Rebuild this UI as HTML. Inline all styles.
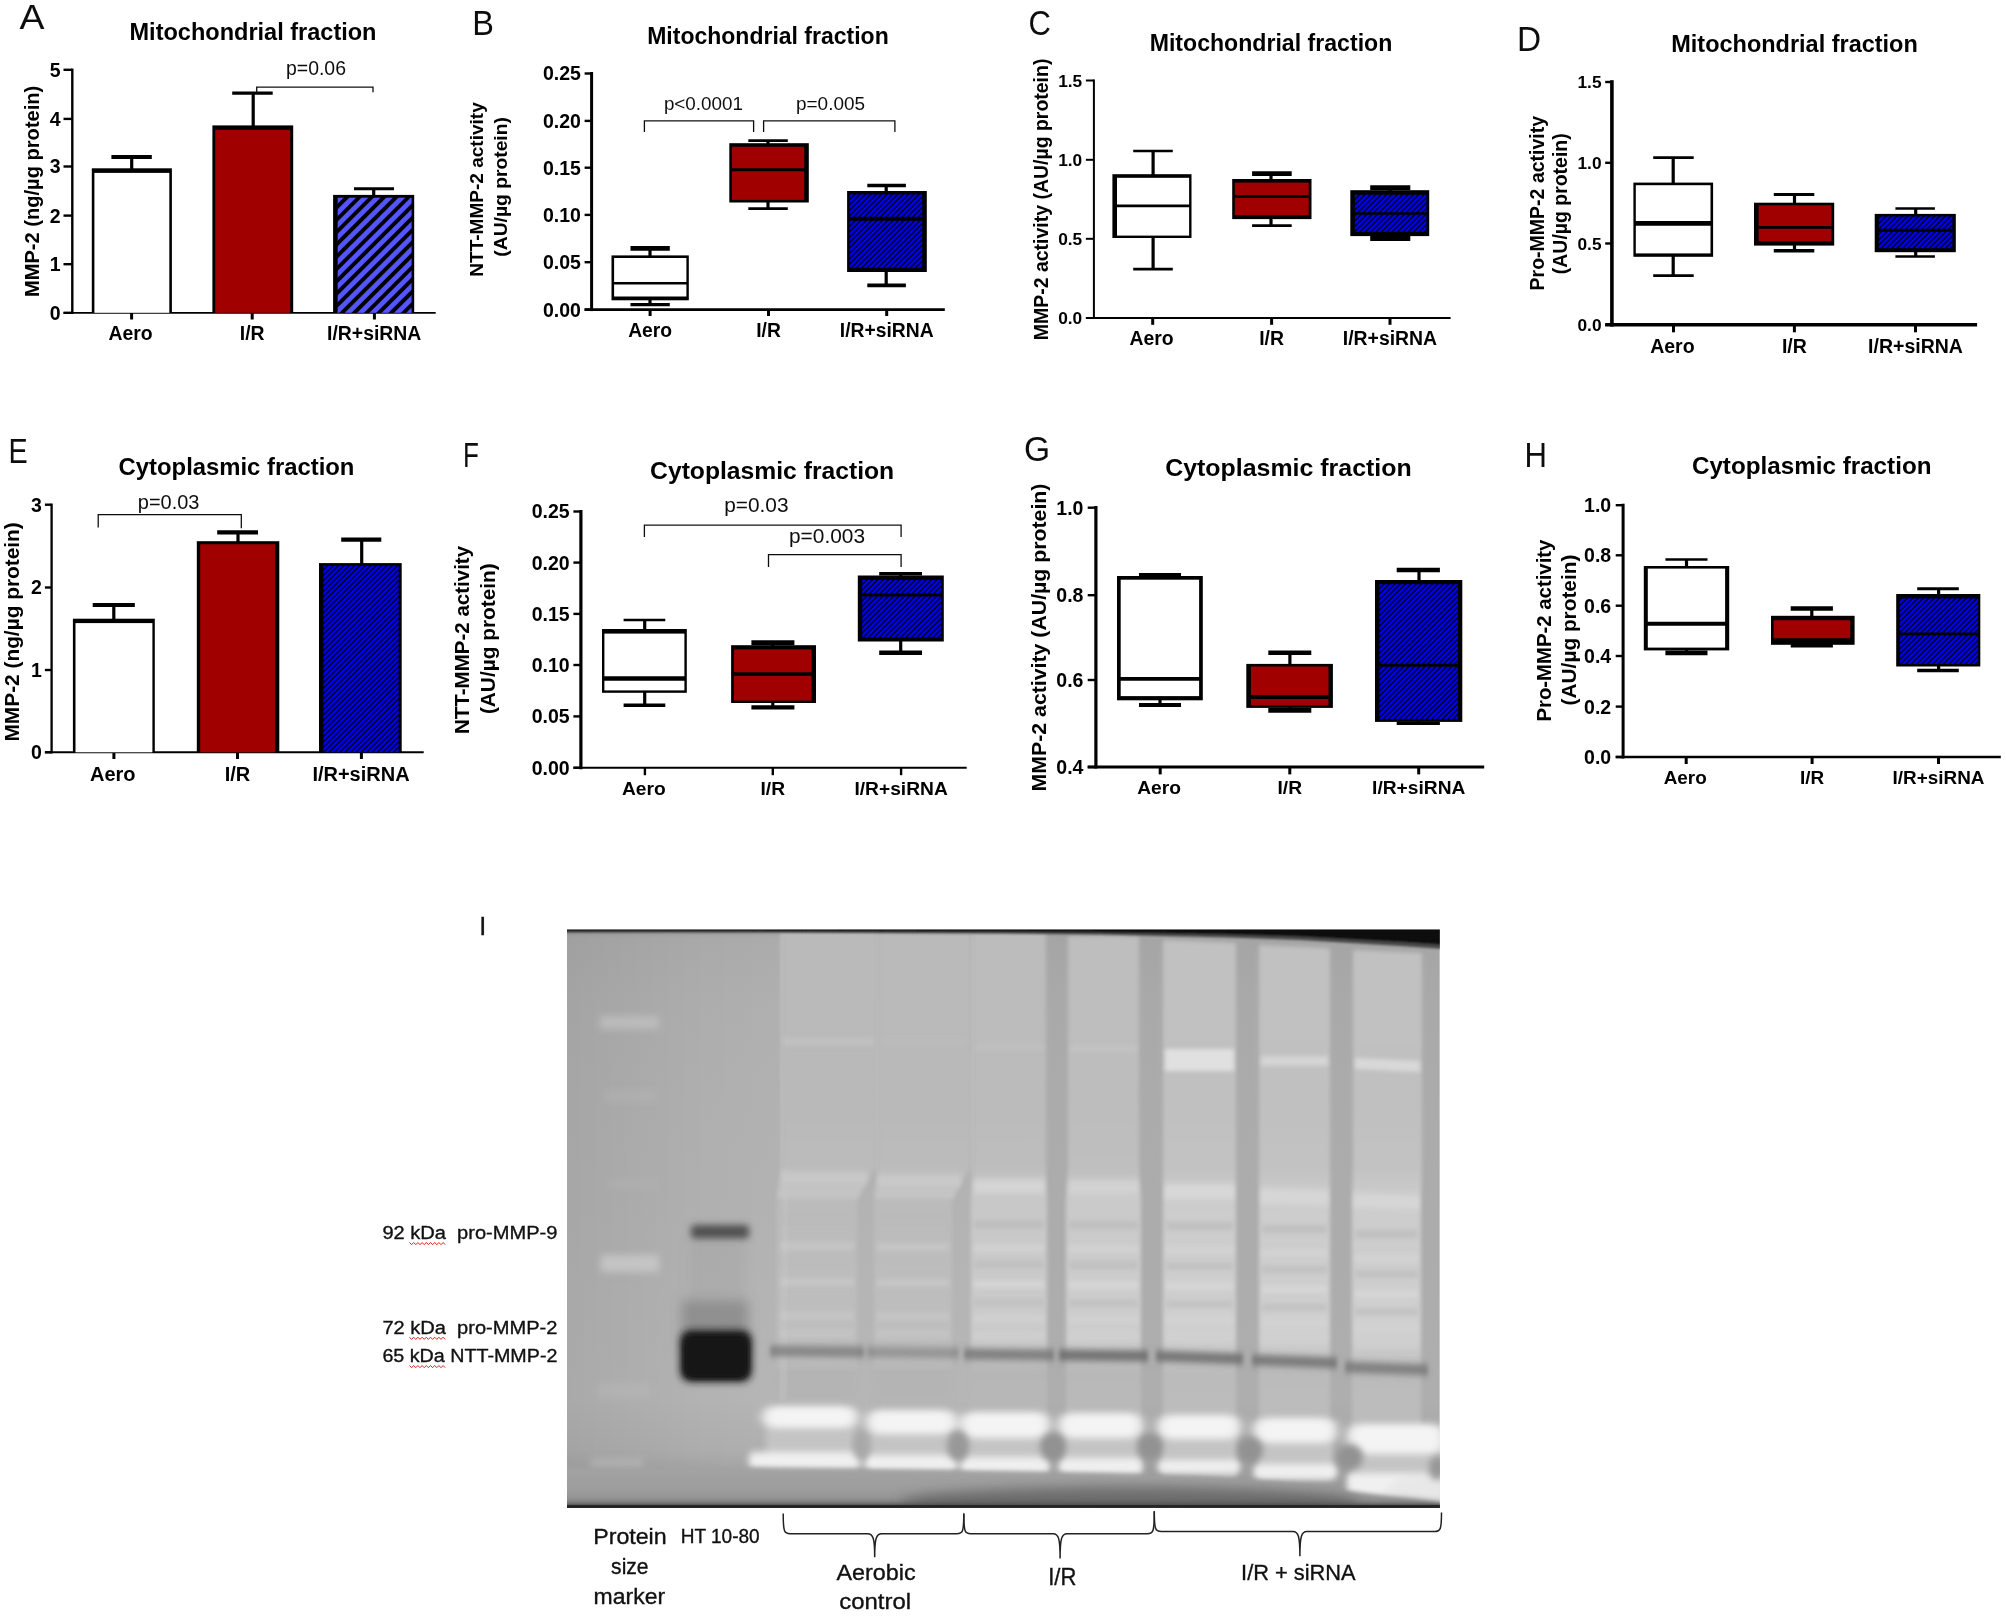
<!DOCTYPE html>
<html><head><meta charset="utf-8"><title>Figure</title>
<style>html,body{margin:0;padding:0;background:#fff}svg{display:block}text{font-family:"Liberation Sans",Arial,sans-serif}</style></head><body>
<svg width="2006" height="1618" viewBox="0 0 2006 1618">
<defs>
<pattern id="hA" width="8.7" height="8.7" patternUnits="userSpaceOnUse" patternTransform="rotate(-45)"><rect width="8.7" height="8.7" fill="#5555FF"/><rect y="0" width="8.7" height="3.9" fill="#000"/></pattern>
<pattern id="hF" width="3.8" height="3.8" patternUnits="userSpaceOnUse" patternTransform="rotate(-45)"><rect width="3.8" height="3.8" fill="#0000F8"/><rect y="0" width="3.8" height="1.5" fill="#000018"/></pattern>
<filter id="soft" x="0" y="0" width="2006" height="830" filterUnits="userSpaceOnUse"><feGaussianBlur stdDeviation="0.45"/></filter>
<clipPath id="gc"><rect x="567.0" y="929.5" width="872.8" height="577.7"/></clipPath>
<filter id="b1" x="-40%" y="-40%" width="180%" height="180%"><feGaussianBlur stdDeviation="1.2"/></filter>
<filter id="b2" x="-40%" y="-40%" width="180%" height="180%"><feGaussianBlur stdDeviation="2.2"/></filter>
<filter id="b3" x="-40%" y="-40%" width="180%" height="180%"><feGaussianBlur stdDeviation="3.5"/></filter>
<filter id="b5" x="-40%" y="-40%" width="180%" height="180%"><feGaussianBlur stdDeviation="6"/></filter>
<filter id="b8" x="-40%" y="-40%" width="180%" height="180%"><feGaussianBlur stdDeviation="10"/></filter>
<filter id="bh" x="-40%" y="-40%" width="180%" height="180%"><feGaussianBlur stdDeviation="3 1.6"/></filter>
<filter id="bv" x="-40%" y="-40%" width="180%" height="180%"><feGaussianBlur stdDeviation="2 3"/></filter>
<filter id="bw" x="-40%" y="-40%" width="180%" height="180%"><feGaussianBlur stdDeviation="6 3.5"/></filter>
<linearGradient id="gbase" gradientUnits="userSpaceOnUse" x1="0" y1="929.0" x2="0" y2="1507.2"><stop offset="0.0000" stop-color="#9c9c9c"/><stop offset="0.0156" stop-color="#acacac"/><stop offset="0.1228" stop-color="#b0b0b0"/><stop offset="0.2957" stop-color="#b2b2b2"/><stop offset="0.4687" stop-color="#b3b3b3"/><stop offset="0.6416" stop-color="#b5b5b5"/><stop offset="0.8146" stop-color="#b6b6b6"/><stop offset="0.9011" stop-color="#b0b0b0"/><stop offset="0.9357" stop-color="#a6a6a6"/><stop offset="0.9997" stop-color="#9c9c9c"/></linearGradient>
<linearGradient id="glane" gradientUnits="userSpaceOnUse" x1="0" y1="929.0" x2="0" y2="1507.2"><stop offset="0.0017" stop-color="#bababa"/><stop offset="0.1747" stop-color="#bababa"/><stop offset="0.2957" stop-color="#b9b9b9"/><stop offset="0.4082" stop-color="#bbbbbb"/><stop offset="0.4687" stop-color="#c7c7c7"/><stop offset="0.7108" stop-color="#cbcbcb"/><stop offset="0.7662" stop-color="#b4b4b4"/><stop offset="0.8146" stop-color="#b5b5b5"/><stop offset="0.9443" stop-color="#b4b4b4"/><stop offset="0.9997" stop-color="#acacac"/></linearGradient>
<linearGradient id="gbot" gradientUnits="userSpaceOnUse" x1="0" y1="929.0" x2="0" y2="1507.2"><stop offset="0.9218" stop-color="#a6a6a6" stop-opacity="0"/><stop offset="0.9374" stop-color="#a2a2a2" stop-opacity="1"/><stop offset="0.9703" stop-color="#9d9d9d" stop-opacity="1"/><stop offset="0.9858" stop-color="#939393" stop-opacity="1"/><stop offset="0.9927" stop-color="#7e7e7e" stop-opacity="1"/><stop offset="0.9962" stop-color="#545454" stop-opacity="1"/><stop offset="0.9984" stop-color="#282828" stop-opacity="1"/><stop offset="0.9997" stop-color="#181818" stop-opacity="1"/></linearGradient>
<linearGradient id="gleft" gradientUnits="userSpaceOnUse" x1="567" y1="0" x2="790" y2="0"><stop offset="0.0000" stop-color="#000000" stop-opacity="0.07"/><stop offset="0.5964" stop-color="#000000" stop-opacity="0.02"/><stop offset="1.0000" stop-color="#000000" stop-opacity="0"/></linearGradient>
</defs>
<rect width="2006" height="1618" fill="#fff"/>
<g filter="url(#soft)">
<text x="19.5" y="29.0" font-size="34.50" textLength="25.0" lengthAdjust="spacingAndGlyphs" fill="#111">A</text>
<text x="129.5" y="40.0" font-size="23.40" font-weight="bold" textLength="247.0" lengthAdjust="spacingAndGlyphs">Mitochondrial fraction</text>
<text transform="translate(38.6,297.0) rotate(-90)" font-size="20.60" font-weight="bold" textLength="211.3" lengthAdjust="spacingAndGlyphs">MMP-2 (ng/µg protein)</text>
<line x1="72.3" y1="68.6" x2="72.3" y2="314.0" stroke="#000" stroke-width="2.4"/>
<line x1="63.5" y1="312.8" x2="435.7" y2="312.8" stroke="#000" stroke-width="1.8"/>
<line x1="63.5" y1="69.8" x2="72.3" y2="69.8" stroke="#000" stroke-width="2.4"/>
<text x="60.7" y="76.7" font-size="19.50" font-weight="bold" text-anchor="end">5</text>
<line x1="63.5" y1="118.9" x2="72.3" y2="118.9" stroke="#000" stroke-width="2.4"/>
<text x="60.7" y="125.8" font-size="19.50" font-weight="bold" text-anchor="end">4</text>
<line x1="63.5" y1="166.5" x2="72.3" y2="166.5" stroke="#000" stroke-width="2.4"/>
<text x="60.7" y="173.4" font-size="19.50" font-weight="bold" text-anchor="end">3</text>
<line x1="63.5" y1="215.6" x2="72.3" y2="215.6" stroke="#000" stroke-width="2.4"/>
<text x="60.7" y="222.5" font-size="19.50" font-weight="bold" text-anchor="end">2</text>
<line x1="63.5" y1="264.2" x2="72.3" y2="264.2" stroke="#000" stroke-width="2.4"/>
<text x="60.7" y="271.1" font-size="19.50" font-weight="bold" text-anchor="end">1</text>
<line x1="63.5" y1="312.8" x2="72.3" y2="312.8" stroke="#000" stroke-width="2.4"/>
<text x="60.7" y="319.7" font-size="19.50" font-weight="bold" text-anchor="end">0</text>
<line x1="131.6" y1="312.8" x2="131.6" y2="319.5" stroke="#000" stroke-width="3"/>
<line x1="252.2" y1="312.8" x2="252.2" y2="319.5" stroke="#000" stroke-width="3"/>
<line x1="374.4" y1="312.8" x2="374.4" y2="319.5" stroke="#000" stroke-width="3"/>
<line x1="131.7" y1="157.0" x2="131.7" y2="169.3" stroke="#000" stroke-width="3.2"/>
<line x1="111.4" y1="157.0" x2="151.8" y2="157.0" stroke="#000" stroke-width="4"/>
<rect x="91.8" y="168.3" width="80.1" height="144.5" fill="#000"/>
<rect x="94.4" y="172.9" width="74.9" height="139.9" fill="#fff"/>
<line x1="253.2" y1="93.1" x2="253.2" y2="126.4" stroke="#000" stroke-width="3.2"/>
<line x1="232.2" y1="93.1" x2="272.7" y2="93.1" stroke="#000" stroke-width="3.2"/>
<rect x="212.4" y="125.4" width="80.8" height="187.4" fill="#000"/>
<rect x="215.2" y="129.8" width="75.0" height="183.0" fill="#A00000"/>
<line x1="373.7" y1="188.7" x2="373.7" y2="195.9" stroke="#000" stroke-width="3.2"/>
<line x1="354.0" y1="188.7" x2="394.0" y2="188.7" stroke="#000" stroke-width="3"/>
<rect x="333.1" y="194.9" width="81.1" height="117.9" fill="#000"/>
<rect x="337.7" y="197.7" width="73.9" height="115.1" fill="url(#hA)"/>
<text x="130.5" y="339.5" font-size="19.40" font-weight="bold" text-anchor="middle">Aero</text>
<text x="252.2" y="339.5" font-size="19.40" font-weight="bold" text-anchor="middle">I/R</text>
<text x="374.2" y="339.5" font-size="19.40" font-weight="bold" text-anchor="middle">I/R+siRNA</text>
<text x="286.0" y="74.8" font-size="19.30" textLength="60.0" lengthAdjust="spacingAndGlyphs" fill="#111">p=0.06</text>
<polyline points="256.7,92.5 256.7,87.2 373.0,87.2 373.0,92.2" fill="none" stroke="#111" stroke-width="1.3"/>
<text x="472.2" y="34.9" font-size="34.50" textLength="21.7" lengthAdjust="spacingAndGlyphs" fill="#111">B</text>
<text x="647.2" y="43.6" font-size="23.00" font-weight="bold" textLength="241.5" lengthAdjust="spacingAndGlyphs">Mitochondrial fraction</text>
<text transform="translate(482.5,276.7) rotate(-90)" font-size="19.20" font-weight="bold" textLength="174.5" lengthAdjust="spacingAndGlyphs">NTT-MMP-2 activity</text>
<text transform="translate(507.0,256.7) rotate(-90)" font-size="19.20" font-weight="bold" textLength="139.6" lengthAdjust="spacingAndGlyphs">(AU/µg protein)</text>
<line x1="591.6" y1="72.0" x2="591.6" y2="311.1" stroke="#000" stroke-width="3"/>
<line x1="584.6" y1="309.6" x2="944.8" y2="309.6" stroke="#000" stroke-width="2.6"/>
<line x1="584.6" y1="73.5" x2="591.6" y2="73.5" stroke="#000" stroke-width="2.4"/>
<text x="580.9" y="80.4" font-size="19.50" font-weight="bold" text-anchor="end">0.25</text>
<line x1="584.6" y1="120.9" x2="591.6" y2="120.9" stroke="#000" stroke-width="2.4"/>
<text x="580.9" y="127.8" font-size="19.50" font-weight="bold" text-anchor="end">0.20</text>
<line x1="584.6" y1="167.7" x2="591.6" y2="167.7" stroke="#000" stroke-width="2.4"/>
<text x="580.9" y="174.6" font-size="19.50" font-weight="bold" text-anchor="end">0.15</text>
<line x1="584.6" y1="214.9" x2="591.6" y2="214.9" stroke="#000" stroke-width="2.4"/>
<text x="580.9" y="221.8" font-size="19.50" font-weight="bold" text-anchor="end">0.10</text>
<line x1="584.6" y1="262.2" x2="591.6" y2="262.2" stroke="#000" stroke-width="2.4"/>
<text x="580.9" y="269.1" font-size="19.50" font-weight="bold" text-anchor="end">0.05</text>
<line x1="584.6" y1="309.6" x2="591.6" y2="309.6" stroke="#000" stroke-width="2.4"/>
<text x="580.9" y="316.5" font-size="19.50" font-weight="bold" text-anchor="end">0.00</text>
<line x1="650.1" y1="309.6" x2="650.1" y2="316.0" stroke="#000" stroke-width="3"/>
<line x1="768.5" y1="309.6" x2="768.5" y2="316.0" stroke="#000" stroke-width="3"/>
<line x1="886.7" y1="309.6" x2="886.7" y2="316.0" stroke="#000" stroke-width="3"/>
<line x1="650.0" y1="248.4" x2="650.0" y2="304.6" stroke="#000" stroke-width="3.2"/>
<line x1="630.5" y1="248.4" x2="669.8" y2="248.4" stroke="#000" stroke-width="4.6"/>
<line x1="630.5" y1="304.6" x2="669.8" y2="304.6" stroke="#000" stroke-width="3.4"/>
<rect x="611.5" y="255.4" width="77.3" height="44.9" fill="#000"/>
<rect x="614.1" y="258.0" width="72.3" height="38.5" fill="#fff"/>
<line x1="612.5" y1="283.3" x2="687.8" y2="283.3" stroke="#000" stroke-width="2.6"/>
<line x1="768.0" y1="140.6" x2="768.0" y2="208.6" stroke="#000" stroke-width="3.2"/>
<line x1="748.3" y1="140.6" x2="787.8" y2="140.6" stroke="#000" stroke-width="2.6"/>
<line x1="748.3" y1="208.6" x2="787.8" y2="208.6" stroke="#000" stroke-width="2.9"/>
<rect x="729.3" y="143.2" width="79.5" height="59.3" fill="#000"/>
<rect x="731.9" y="146.8" width="72.3" height="53.1" fill="#A00000"/>
<line x1="730.3" y1="169.8" x2="807.8" y2="169.8" stroke="#000" stroke-width="3"/>
<line x1="886.2" y1="185.5" x2="886.2" y2="285.4" stroke="#000" stroke-width="3.2"/>
<line x1="867.3" y1="185.5" x2="905.9" y2="185.5" stroke="#000" stroke-width="3.6"/>
<line x1="867.3" y1="285.4" x2="905.9" y2="285.4" stroke="#000" stroke-width="3.7"/>
<rect x="847.1" y="191.0" width="79.7" height="81.0" fill="#000"/>
<rect x="849.7" y="194.4" width="72.5" height="73.4" fill="url(#hF)"/>
<line x1="848.1" y1="218.8" x2="925.8" y2="218.8" stroke="#000" stroke-width="4"/>
<text x="650.1" y="336.5" font-size="19.30" font-weight="bold" text-anchor="middle">Aero</text>
<text x="768.5" y="336.5" font-size="19.30" font-weight="bold" text-anchor="middle">I/R</text>
<text x="886.7" y="336.5" font-size="19.30" font-weight="bold" text-anchor="middle">I/R+siRNA</text>
<text x="663.9" y="109.7" font-size="19.00" textLength="79.0" lengthAdjust="spacingAndGlyphs" fill="#111">p&lt;0.0001</text>
<text x="796.0" y="109.7" font-size="19.00" textLength="69.0" lengthAdjust="spacingAndGlyphs" fill="#111">p=0.005</text>
<polyline points="644.4,132.1 644.4,120.9 753.6,120.9 753.6,132.1" fill="none" stroke="#111" stroke-width="1.3"/>
<polyline points="763.6,132.1 763.6,120.9 894.9,120.9 894.9,132.1" fill="none" stroke="#111" stroke-width="1.3"/>
<text x="1028.4" y="34.6" font-size="34.50" textLength="22.4" lengthAdjust="spacingAndGlyphs" fill="#111">C</text>
<text x="1149.7" y="51.1" font-size="23.10" font-weight="bold" textLength="242.6" lengthAdjust="spacingAndGlyphs">Mitochondrial fraction</text>
<text transform="translate(1047.5,340.2) rotate(-90)" font-size="19.60" font-weight="bold" textLength="281.6" lengthAdjust="spacingAndGlyphs">MMP-2 activity (AU/µg protein)</text>
<line x1="1093.9" y1="79.5" x2="1093.9" y2="319.0" stroke="#000" stroke-width="2.0"/>
<line x1="1085.9" y1="318.0" x2="1450.6" y2="318.0" stroke="#000" stroke-width="2.0"/>
<line x1="1085.9" y1="80.5" x2="1093.9" y2="80.5" stroke="#000" stroke-width="2.0"/>
<text x="1082.2" y="86.6" font-size="17.30" font-weight="bold" text-anchor="end">1.5</text>
<line x1="1085.9" y1="159.8" x2="1093.9" y2="159.8" stroke="#000" stroke-width="2.0"/>
<text x="1082.2" y="165.9" font-size="17.30" font-weight="bold" text-anchor="end">1.0</text>
<line x1="1085.9" y1="238.8" x2="1093.9" y2="238.8" stroke="#000" stroke-width="2.0"/>
<text x="1082.2" y="244.9" font-size="17.30" font-weight="bold" text-anchor="end">0.5</text>
<line x1="1085.9" y1="318.0" x2="1093.9" y2="318.0" stroke="#000" stroke-width="2.0"/>
<text x="1082.2" y="324.1" font-size="17.30" font-weight="bold" text-anchor="end">0.0</text>
<line x1="1152.7" y1="318.0" x2="1152.7" y2="324.8" stroke="#000" stroke-width="3"/>
<line x1="1271.6" y1="318.0" x2="1271.6" y2="324.8" stroke="#000" stroke-width="3"/>
<line x1="1390.0" y1="318.0" x2="1390.0" y2="324.8" stroke="#000" stroke-width="3"/>
<line x1="1153.1" y1="151.0" x2="1153.1" y2="269.2" stroke="#000" stroke-width="3.2"/>
<line x1="1133.2" y1="151.0" x2="1172.8" y2="151.0" stroke="#000" stroke-width="2.7"/>
<line x1="1133.2" y1="269.2" x2="1172.8" y2="269.2" stroke="#000" stroke-width="2.7"/>
<rect x="1112.4" y="174.2" width="79.1" height="63.8" fill="#000"/>
<rect x="1117.0" y="177.8" width="72.1" height="57.8" fill="#fff"/>
<line x1="1113.4" y1="205.8" x2="1190.5" y2="205.8" stroke="#000" stroke-width="2.7"/>
<line x1="1271.0" y1="173.6" x2="1271.0" y2="225.6" stroke="#000" stroke-width="3.2"/>
<line x1="1252.1" y1="173.6" x2="1291.7" y2="173.6" stroke="#000" stroke-width="4.6"/>
<line x1="1252.1" y1="225.6" x2="1291.7" y2="225.6" stroke="#000" stroke-width="2.6"/>
<rect x="1232.2" y="179.0" width="79.3" height="40.1" fill="#000"/>
<rect x="1234.8" y="182.6" width="73.9" height="32.5" fill="#A00000"/>
<line x1="1233.2" y1="196.4" x2="1310.5" y2="196.4" stroke="#000" stroke-width="2.7"/>
<line x1="1390.0" y1="187.7" x2="1390.0" y2="238.5" stroke="#000" stroke-width="3.2"/>
<line x1="1370.2" y1="187.7" x2="1410.3" y2="187.7" stroke="#000" stroke-width="5"/>
<line x1="1370.2" y1="238.5" x2="1410.3" y2="238.5" stroke="#000" stroke-width="5"/>
<rect x="1350.3" y="190.2" width="78.9" height="45.9" fill="#000"/>
<rect x="1354.9" y="194.8" width="71.5" height="37.0" fill="url(#hF)"/>
<line x1="1351.3" y1="213.5" x2="1428.2" y2="213.5" stroke="#000" stroke-width="2.5"/>
<text x="1151.6" y="345.2" font-size="19.40" font-weight="bold" text-anchor="middle">Aero</text>
<text x="1271.6" y="345.2" font-size="19.40" font-weight="bold" text-anchor="middle">I/R</text>
<text x="1390.0" y="345.2" font-size="19.40" font-weight="bold" text-anchor="middle">I/R+siRNA</text>
<text x="1517.0" y="50.6" font-size="34.50" textLength="24.1" lengthAdjust="spacingAndGlyphs" fill="#111">D</text>
<text x="1671.3" y="52.3" font-size="23.40" font-weight="bold" textLength="246.5" lengthAdjust="spacingAndGlyphs">Mitochondrial fraction</text>
<text transform="translate(1543.5,290.4) rotate(-90)" font-size="19.30" font-weight="bold" textLength="174.5" lengthAdjust="spacingAndGlyphs">Pro-MMP-2 activity</text>
<text transform="translate(1566.5,274.2) rotate(-90)" font-size="19.30" font-weight="bold" textLength="140.9" lengthAdjust="spacingAndGlyphs">(AU/µg protein)</text>
<line x1="1611.9" y1="80.2" x2="1611.9" y2="326.6" stroke="#000" stroke-width="3.6"/>
<line x1="1605.2" y1="324.8" x2="1977.1" y2="324.8" stroke="#000" stroke-width="3.6"/>
<line x1="1605.2" y1="82.0" x2="1611.9" y2="82.0" stroke="#000" stroke-width="2.4"/>
<text x="1601.5" y="88.1" font-size="17.30" font-weight="bold" text-anchor="end">1.5</text>
<line x1="1605.2" y1="162.8" x2="1611.9" y2="162.8" stroke="#000" stroke-width="2.4"/>
<text x="1601.5" y="168.9" font-size="17.30" font-weight="bold" text-anchor="end">1.0</text>
<line x1="1605.2" y1="243.5" x2="1611.9" y2="243.5" stroke="#000" stroke-width="2.4"/>
<text x="1601.5" y="249.6" font-size="17.30" font-weight="bold" text-anchor="end">0.5</text>
<line x1="1605.2" y1="324.8" x2="1611.9" y2="324.8" stroke="#000" stroke-width="2.4"/>
<text x="1601.5" y="330.9" font-size="17.30" font-weight="bold" text-anchor="end">0.0</text>
<line x1="1673.5" y1="324.8" x2="1673.5" y2="332.3" stroke="#000" stroke-width="3"/>
<line x1="1794.4" y1="324.8" x2="1794.4" y2="332.3" stroke="#000" stroke-width="3"/>
<line x1="1915.5" y1="324.8" x2="1915.5" y2="332.3" stroke="#000" stroke-width="3"/>
<line x1="1673.2" y1="157.6" x2="1673.2" y2="275.6" stroke="#000" stroke-width="3.2"/>
<line x1="1653.2" y1="157.6" x2="1693.7" y2="157.6" stroke="#000" stroke-width="2.8"/>
<line x1="1653.2" y1="275.6" x2="1693.7" y2="275.6" stroke="#000" stroke-width="2.8"/>
<rect x="1633.4" y="182.6" width="79.7" height="74.2" fill="#000"/>
<rect x="1635.8" y="185.2" width="74.7" height="68.2" fill="#fff"/>
<line x1="1634.4" y1="223.4" x2="1712.1" y2="223.4" stroke="#000" stroke-width="4.6"/>
<line x1="1794.5" y1="194.5" x2="1794.5" y2="250.7" stroke="#000" stroke-width="3.2"/>
<line x1="1773.8" y1="194.5" x2="1814.3" y2="194.5" stroke="#000" stroke-width="2.8"/>
<line x1="1773.8" y1="250.7" x2="1814.3" y2="250.7" stroke="#000" stroke-width="3.4"/>
<rect x="1754.0" y="202.7" width="80.2" height="42.9" fill="#000"/>
<rect x="1758.6" y="205.3" width="72.8" height="35.9" fill="#A00000"/>
<line x1="1755.0" y1="227.4" x2="1833.2" y2="227.4" stroke="#000" stroke-width="2.6"/>
<line x1="1915.7" y1="208.5" x2="1915.7" y2="256.5" stroke="#000" stroke-width="3.2"/>
<line x1="1895.4" y1="208.5" x2="1934.9" y2="208.5" stroke="#000" stroke-width="2.6"/>
<line x1="1895.4" y1="256.5" x2="1934.9" y2="256.5" stroke="#000" stroke-width="2.6"/>
<rect x="1874.7" y="213.9" width="81.1" height="38.3" fill="#000"/>
<rect x="1878.9" y="216.5" width="73.5" height="31.7" fill="url(#hF)"/>
<line x1="1875.7" y1="230.2" x2="1954.8" y2="230.2" stroke="#000" stroke-width="2.9"/>
<text x="1672.4" y="352.7" font-size="19.50" font-weight="bold" text-anchor="middle">Aero</text>
<text x="1794.4" y="352.7" font-size="19.50" font-weight="bold" text-anchor="middle">I/R</text>
<text x="1915.5" y="352.7" font-size="19.50" font-weight="bold" text-anchor="middle">I/R+siRNA</text>
<text x="8.5" y="462.9" font-size="34.50" textLength="19.2" lengthAdjust="spacingAndGlyphs" fill="#111">E</text>
<text x="118.6" y="475.3" font-size="23.70" font-weight="bold" textLength="235.8" lengthAdjust="spacingAndGlyphs">Cytoplasmic fraction</text>
<text transform="translate(18.6,741.5) rotate(-90)" font-size="20.60" font-weight="bold" textLength="219.3" lengthAdjust="spacingAndGlyphs">MMP-2 (ng/µg protein)</text>
<line x1="51.6" y1="503.6" x2="51.6" y2="753.4" stroke="#000" stroke-width="2.3"/>
<line x1="44.9" y1="752.3" x2="423.7" y2="752.3" stroke="#000" stroke-width="2.0"/>
<line x1="44.9" y1="504.7" x2="51.6" y2="504.7" stroke="#000" stroke-width="2.4"/>
<text x="41.9" y="511.6" font-size="19.50" font-weight="bold" text-anchor="end">3</text>
<line x1="44.9" y1="587.5" x2="51.6" y2="587.5" stroke="#000" stroke-width="2.4"/>
<text x="41.9" y="594.4" font-size="19.50" font-weight="bold" text-anchor="end">2</text>
<line x1="44.9" y1="670.0" x2="51.6" y2="670.0" stroke="#000" stroke-width="2.4"/>
<text x="41.9" y="676.9" font-size="19.50" font-weight="bold" text-anchor="end">1</text>
<line x1="44.9" y1="752.3" x2="51.6" y2="752.3" stroke="#000" stroke-width="2.4"/>
<text x="41.9" y="759.2" font-size="19.50" font-weight="bold" text-anchor="end">0</text>
<line x1="113.9" y1="752.3" x2="113.9" y2="759.0" stroke="#000" stroke-width="3"/>
<line x1="237.5" y1="752.3" x2="237.5" y2="759.0" stroke="#000" stroke-width="3"/>
<line x1="361.4" y1="752.3" x2="361.4" y2="759.0" stroke="#000" stroke-width="3"/>
<line x1="113.8" y1="604.9" x2="113.8" y2="619.7" stroke="#000" stroke-width="3.2"/>
<line x1="92.7" y1="604.9" x2="134.8" y2="604.9" stroke="#000" stroke-width="4"/>
<rect x="72.9" y="618.7" width="81.9" height="133.6" fill="#000"/>
<rect x="75.5" y="623.1" width="76.9" height="129.2" fill="#fff"/>
<line x1="238.0" y1="532.3" x2="238.0" y2="542.2" stroke="#000" stroke-width="3.2"/>
<line x1="217.2" y1="532.3" x2="258.0" y2="532.3" stroke="#000" stroke-width="4.2"/>
<rect x="196.8" y="541.2" width="82.5" height="211.1" fill="#000"/>
<rect x="200.2" y="544.2" width="74.9" height="208.1" fill="#A00000"/>
<line x1="361.7" y1="539.7" x2="361.7" y2="564.1" stroke="#000" stroke-width="3.2"/>
<line x1="341.2" y1="539.7" x2="381.3" y2="539.7" stroke="#000" stroke-width="4.3"/>
<rect x="319.0" y="563.1" width="82.7" height="189.2" fill="#000"/>
<rect x="323.4" y="565.7" width="75.3" height="186.6" fill="url(#hF)"/>
<text x="112.8" y="780.7" font-size="20.00" font-weight="bold" text-anchor="middle">Aero</text>
<text x="237.5" y="780.7" font-size="20.00" font-weight="bold" text-anchor="middle">I/R</text>
<text x="361.0" y="780.7" font-size="20.00" font-weight="bold" text-anchor="middle">I/R+siRNA</text>
<text x="137.8" y="508.5" font-size="19.50" textLength="61.6" lengthAdjust="spacingAndGlyphs" fill="#111">p=0.03</text>
<polyline points="98.2,527.6 98.2,514.7 241.3,514.7 241.3,528.2" fill="none" stroke="#111" stroke-width="1.3"/>
<text x="463.0" y="466.6" font-size="34.50" textLength="15.9" lengthAdjust="spacingAndGlyphs" fill="#111">F</text>
<text x="650.1" y="479.3" font-size="24.60" font-weight="bold" textLength="244.1" lengthAdjust="spacingAndGlyphs">Cytoplasmic fraction</text>
<text transform="translate(468.5,734.0) rotate(-90)" font-size="20.20" font-weight="bold" textLength="188.1" lengthAdjust="spacingAndGlyphs">NTT-MMP-2 activity</text>
<text transform="translate(494.5,714.1) rotate(-90)" font-size="20.20" font-weight="bold" textLength="150.8" lengthAdjust="spacingAndGlyphs">(AU/µg protein)</text>
<line x1="580.9" y1="509.9" x2="580.9" y2="769.3" stroke="#000" stroke-width="3.2"/>
<line x1="573.4" y1="767.7" x2="966.7" y2="767.7" stroke="#000" stroke-width="2.0"/>
<line x1="573.4" y1="511.5" x2="580.9" y2="511.5" stroke="#000" stroke-width="2.4"/>
<text x="569.6" y="518.4" font-size="19.50" font-weight="bold" text-anchor="end">0.25</text>
<line x1="573.4" y1="562.6" x2="580.9" y2="562.6" stroke="#000" stroke-width="2.4"/>
<text x="569.6" y="569.5" font-size="19.50" font-weight="bold" text-anchor="end">0.20</text>
<line x1="573.4" y1="613.9" x2="580.9" y2="613.9" stroke="#000" stroke-width="2.4"/>
<text x="569.6" y="620.8" font-size="19.50" font-weight="bold" text-anchor="end">0.15</text>
<line x1="573.4" y1="665.0" x2="580.9" y2="665.0" stroke="#000" stroke-width="2.4"/>
<text x="569.6" y="671.9" font-size="19.50" font-weight="bold" text-anchor="end">0.10</text>
<line x1="573.4" y1="716.4" x2="580.9" y2="716.4" stroke="#000" stroke-width="2.4"/>
<text x="569.6" y="723.3" font-size="19.50" font-weight="bold" text-anchor="end">0.05</text>
<line x1="573.4" y1="767.7" x2="580.9" y2="767.7" stroke="#000" stroke-width="2.4"/>
<text x="569.6" y="774.6" font-size="19.50" font-weight="bold" text-anchor="end">0.00</text>
<line x1="644.9" y1="767.7" x2="644.9" y2="775.2" stroke="#000" stroke-width="2.4"/>
<line x1="772.8" y1="767.7" x2="772.8" y2="775.2" stroke="#000" stroke-width="2.4"/>
<line x1="901.1" y1="767.7" x2="901.1" y2="775.2" stroke="#000" stroke-width="2.4"/>
<line x1="644.7" y1="620.0" x2="644.7" y2="705.2" stroke="#000" stroke-width="3.2"/>
<line x1="623.6" y1="620.0" x2="665.3" y2="620.0" stroke="#000" stroke-width="2.6"/>
<line x1="623.6" y1="705.2" x2="665.3" y2="705.2" stroke="#000" stroke-width="3.6"/>
<rect x="602.0" y="629.0" width="84.8" height="63.8" fill="#000"/>
<rect x="604.4" y="633.6" width="80.0" height="56.8" fill="#fff"/>
<line x1="603.0" y1="678.5" x2="685.8" y2="678.5" stroke="#000" stroke-width="4.6"/>
<line x1="772.8" y1="642.7" x2="772.8" y2="707.3" stroke="#000" stroke-width="3.2"/>
<line x1="751.4" y1="642.7" x2="794.4" y2="642.7" stroke="#000" stroke-width="5"/>
<line x1="751.4" y1="707.3" x2="794.4" y2="707.3" stroke="#000" stroke-width="4.2"/>
<rect x="731.1" y="645.2" width="84.9" height="57.8" fill="#000"/>
<rect x="733.9" y="649.4" width="77.7" height="51.2" fill="#A00000"/>
<line x1="732.1" y1="674.0" x2="815.0" y2="674.0" stroke="#000" stroke-width="3.6"/>
<line x1="900.7" y1="573.8" x2="900.7" y2="652.7" stroke="#000" stroke-width="3.2"/>
<line x1="879.2" y1="573.8" x2="922.0" y2="573.8" stroke="#000" stroke-width="3.4"/>
<line x1="879.2" y1="652.7" x2="922.0" y2="652.7" stroke="#000" stroke-width="4.6"/>
<rect x="857.8" y="575.5" width="86.0" height="66.0" fill="#000"/>
<rect x="862.2" y="579.9" width="79.0" height="57.6" fill="url(#hF)"/>
<line x1="858.8" y1="595.0" x2="942.8" y2="595.0" stroke="#000" stroke-width="2.9"/>
<text x="643.8" y="794.6" font-size="19.20" font-weight="bold" text-anchor="middle">Aero</text>
<text x="772.8" y="794.6" font-size="19.20" font-weight="bold" text-anchor="middle">I/R</text>
<text x="901.1" y="794.6" font-size="19.20" font-weight="bold" text-anchor="middle">I/R+siRNA</text>
<text x="724.2" y="512.2" font-size="20.00" textLength="64.3" lengthAdjust="spacingAndGlyphs" fill="#111">p=0.03</text>
<text x="789.0" y="542.6" font-size="20.00" textLength="76.0" lengthAdjust="spacingAndGlyphs" fill="#111">p=0.003</text>
<polyline points="644.4,537.1 644.4,525.2 901.1,525.2 901.1,537.1" fill="none" stroke="#111" stroke-width="1.3"/>
<polyline points="768.5,567.0 768.5,554.6 901.1,554.6 901.1,567.0" fill="none" stroke="#111" stroke-width="1.3"/>
<text x="1023.9" y="460.8" font-size="34.50" textLength="26.1" lengthAdjust="spacingAndGlyphs" fill="#111">G</text>
<text x="1165.2" y="476.1" font-size="24.80" font-weight="bold" textLength="246.5" lengthAdjust="spacingAndGlyphs">Cytoplasmic fraction</text>
<text transform="translate(1045.5,791.4) rotate(-90)" font-size="20.40" font-weight="bold" textLength="307.8" lengthAdjust="spacingAndGlyphs">MMP-2 activity (AU/µg protein)</text>
<line x1="1095.9" y1="506.1" x2="1095.9" y2="768.6" stroke="#000" stroke-width="3.2"/>
<line x1="1087.7" y1="767.0" x2="1484.2" y2="767.0" stroke="#000" stroke-width="3.2"/>
<line x1="1087.7" y1="507.7" x2="1095.9" y2="507.7" stroke="#000" stroke-width="2.4"/>
<text x="1083.4" y="514.6" font-size="19.50" font-weight="bold" text-anchor="end">1.0</text>
<line x1="1087.7" y1="595.2" x2="1095.9" y2="595.2" stroke="#000" stroke-width="2.4"/>
<text x="1083.4" y="602.1" font-size="19.50" font-weight="bold" text-anchor="end">0.8</text>
<line x1="1087.7" y1="680.0" x2="1095.9" y2="680.0" stroke="#000" stroke-width="2.4"/>
<text x="1083.4" y="686.9" font-size="19.50" font-weight="bold" text-anchor="end">0.6</text>
<line x1="1087.7" y1="767.0" x2="1095.9" y2="767.0" stroke="#000" stroke-width="2.4"/>
<text x="1083.4" y="773.9" font-size="19.50" font-weight="bold" text-anchor="end">0.4</text>
<line x1="1160.2" y1="767.0" x2="1160.2" y2="774.4" stroke="#000" stroke-width="3"/>
<line x1="1289.8" y1="767.0" x2="1289.8" y2="774.4" stroke="#000" stroke-width="3"/>
<line x1="1418.7" y1="767.0" x2="1418.7" y2="774.4" stroke="#000" stroke-width="3"/>
<line x1="1160.0" y1="574.9" x2="1160.0" y2="705.0" stroke="#000" stroke-width="3.2"/>
<line x1="1139.0" y1="574.9" x2="1181.0" y2="574.9" stroke="#000" stroke-width="3.8"/>
<line x1="1139.0" y1="705.0" x2="1181.0" y2="705.0" stroke="#000" stroke-width="3.8"/>
<rect x="1117.0" y="576.0" width="85.8" height="124.3" fill="#000"/>
<rect x="1120.7" y="579.7" width="78.4" height="116.4" fill="#fff"/>
<line x1="1118.0" y1="678.8" x2="1201.8" y2="678.8" stroke="#000" stroke-width="3.8"/>
<line x1="1289.9" y1="652.7" x2="1289.9" y2="710.3" stroke="#000" stroke-width="3.2"/>
<line x1="1268.3" y1="652.7" x2="1311.3" y2="652.7" stroke="#000" stroke-width="4.5"/>
<line x1="1268.3" y1="710.3" x2="1311.3" y2="710.3" stroke="#000" stroke-width="4.8"/>
<rect x="1246.3" y="663.9" width="86.6" height="44.0" fill="#000"/>
<rect x="1250.9" y="666.5" width="77.6" height="39.0" fill="#A00000"/>
<line x1="1247.3" y1="697.0" x2="1331.9" y2="697.0" stroke="#000" stroke-width="3.9"/>
<line x1="1419.0" y1="570.0" x2="1419.0" y2="723.4" stroke="#000" stroke-width="3.2"/>
<line x1="1396.7" y1="570.0" x2="1439.9" y2="570.0" stroke="#000" stroke-width="4.4"/>
<line x1="1396.7" y1="723.4" x2="1439.9" y2="723.4" stroke="#000" stroke-width="3.1"/>
<rect x="1375.0" y="580.0" width="87.3" height="141.9" fill="#000"/>
<rect x="1379.4" y="584.2" width="78.5" height="135.1" fill="url(#hF)"/>
<line x1="1376.0" y1="665.3" x2="1461.3" y2="665.3" stroke="#000" stroke-width="3"/>
<text x="1159.1" y="794.4" font-size="19.20" font-weight="bold" text-anchor="middle">Aero</text>
<text x="1289.8" y="794.4" font-size="19.20" font-weight="bold" text-anchor="middle">I/R</text>
<text x="1418.7" y="794.4" font-size="19.20" font-weight="bold" text-anchor="middle">I/R+siRNA</text>
<text x="1524.4" y="466.9" font-size="34.50" textLength="22.5" lengthAdjust="spacingAndGlyphs" fill="#111">H</text>
<text x="1691.9" y="474.3" font-size="24.10" font-weight="bold" textLength="239.6" lengthAdjust="spacingAndGlyphs">Cytoplasmic fraction</text>
<text transform="translate(1551.0,721.6) rotate(-90)" font-size="20.00" font-weight="bold" textLength="182.0" lengthAdjust="spacingAndGlyphs">Pro-MMP-2 activity</text>
<text transform="translate(1575.5,705.4) rotate(-90)" font-size="20.00" font-weight="bold" textLength="150.8" lengthAdjust="spacingAndGlyphs">(AU/µg protein)</text>
<line x1="1623.1" y1="503.7" x2="1623.1" y2="758.5" stroke="#000" stroke-width="3"/>
<line x1="1615.7" y1="757.0" x2="2000.8" y2="757.0" stroke="#000" stroke-width="2.6"/>
<line x1="1615.7" y1="505.2" x2="1623.1" y2="505.2" stroke="#000" stroke-width="2.4"/>
<text x="1611.2" y="512.1" font-size="19.50" font-weight="bold" text-anchor="end">1.0</text>
<line x1="1615.7" y1="555.3" x2="1623.1" y2="555.3" stroke="#000" stroke-width="2.4"/>
<text x="1611.2" y="562.2" font-size="19.50" font-weight="bold" text-anchor="end">0.8</text>
<line x1="1615.7" y1="605.7" x2="1623.1" y2="605.7" stroke="#000" stroke-width="2.4"/>
<text x="1611.2" y="612.6" font-size="19.50" font-weight="bold" text-anchor="end">0.6</text>
<line x1="1615.7" y1="656.0" x2="1623.1" y2="656.0" stroke="#000" stroke-width="2.4"/>
<text x="1611.2" y="662.9" font-size="19.50" font-weight="bold" text-anchor="end">0.4</text>
<line x1="1615.7" y1="706.6" x2="1623.1" y2="706.6" stroke="#000" stroke-width="2.4"/>
<text x="1611.2" y="713.5" font-size="19.50" font-weight="bold" text-anchor="end">0.2</text>
<line x1="1615.7" y1="757.0" x2="1623.1" y2="757.0" stroke="#000" stroke-width="2.4"/>
<text x="1611.2" y="763.9" font-size="19.50" font-weight="bold" text-anchor="end">0.0</text>
<line x1="1686.2" y1="757.0" x2="1686.2" y2="764.0" stroke="#000" stroke-width="3"/>
<line x1="1812.1" y1="757.0" x2="1812.1" y2="764.0" stroke="#000" stroke-width="3"/>
<line x1="1938.5" y1="757.0" x2="1938.5" y2="764.0" stroke="#000" stroke-width="3"/>
<line x1="1686.5" y1="559.5" x2="1686.5" y2="652.8" stroke="#000" stroke-width="3.2"/>
<line x1="1665.4" y1="559.5" x2="1707.5" y2="559.5" stroke="#000" stroke-width="2.7"/>
<line x1="1665.4" y1="652.8" x2="1707.5" y2="652.8" stroke="#000" stroke-width="4.8"/>
<rect x="1643.8" y="566.0" width="85.4" height="84.4" fill="#000"/>
<rect x="1647.8" y="568.6" width="77.3" height="79.0" fill="#fff"/>
<line x1="1644.8" y1="623.7" x2="1728.2" y2="623.7" stroke="#000" stroke-width="4.1"/>
<line x1="1811.8" y1="608.5" x2="1811.8" y2="645.6" stroke="#000" stroke-width="3.2"/>
<line x1="1790.7" y1="608.5" x2="1832.9" y2="608.5" stroke="#000" stroke-width="4.6"/>
<line x1="1790.7" y1="645.6" x2="1832.9" y2="645.6" stroke="#000" stroke-width="4"/>
<rect x="1771.0" y="615.8" width="83.6" height="29.0" fill="#000"/>
<rect x="1773.6" y="620.2" width="76.6" height="18.0" fill="#A00000"/>
<line x1="1938.6" y1="588.8" x2="1938.6" y2="670.5" stroke="#000" stroke-width="3.2"/>
<line x1="1917.2" y1="588.8" x2="1958.8" y2="588.8" stroke="#000" stroke-width="2.9"/>
<line x1="1917.2" y1="670.5" x2="1958.8" y2="670.5" stroke="#000" stroke-width="3.6"/>
<rect x="1896.2" y="594.0" width="84.1" height="72.5" fill="#000"/>
<rect x="1899.8" y="598.4" width="78.3" height="65.5" fill="url(#hF)"/>
<line x1="1897.2" y1="633.8" x2="1979.3" y2="633.8" stroke="#000" stroke-width="2.7"/>
<text x="1685.2" y="784.4" font-size="18.90" font-weight="bold" text-anchor="middle">Aero</text>
<text x="1812.1" y="784.4" font-size="18.90" font-weight="bold" text-anchor="middle">I/R</text>
<text x="1938.5" y="784.4" font-size="18.90" font-weight="bold" text-anchor="middle">I/R+siRNA</text>
</g>
<g clip-path="url(#gc)">
<rect x="567.0" y="929.5" width="872.8" height="577.7" fill="url(#gbase)"/>
<rect x="567.0" y="929.5" width="230" height="577.7" fill="url(#gleft)"/>
<rect x="1040" y="929.5" width="400" height="577.7" fill="#000" opacity=".04"/>
<g filter="url(#b2)">
<polygon points="781,932 876,932 876,1165 857,1200 857,1478 777,1478 777,1200 781,1165" fill="url(#glane)"/>
<polygon points="878,933 971,933 971,1165 952,1200 952,1478 874,1478 874,1200 878,1165" fill="url(#glane)"/>
<polygon points="973,933 1046,933 1046,1165 1047,1200 1047,1478 971,1478 971,1200 973,1165" fill="url(#glane)"/>
<polygon points="973,933 1046,933 1046,1165 1047,1200 1047,1478 971,1478 971,1200 973,1165" fill="#fff" opacity="0.03"/>
<polygon points="1068,936 1139,936 1139,1165 1141,1200 1141,1478 1066,1478 1066,1200 1068,1165" fill="url(#glane)"/>
<polygon points="1068,936 1139,936 1139,1165 1141,1200 1141,1478 1066,1478 1066,1200 1068,1165" fill="#fff" opacity="0.06"/>
<polygon points="1163,940 1236,943 1236,1165 1236,1200 1236,1478 1163,1478 1163,1200 1163,1165" fill="url(#glane)"/>
<polygon points="1163,940 1236,943 1236,1165 1236,1200 1236,1478 1163,1478 1163,1200 1163,1165" fill="#fff" opacity="0.1"/>
<polygon points="1259,945 1330,948 1330,1165 1330,1200 1330,1478 1259,1478 1259,1200 1259,1165" fill="url(#glane)"/>
<polygon points="1259,945 1330,948 1330,1165 1330,1200 1330,1478 1259,1478 1259,1200 1259,1165" fill="#fff" opacity="0.1"/>
<polygon points="1353,950 1422,953 1422,1165 1421,1200 1421,1478 1352,1478 1352,1200 1353,1165" fill="url(#glane)"/>
<polygon points="1353,950 1422,953 1422,1165 1421,1200 1421,1478 1352,1478 1352,1200 1353,1165" fill="#fff" opacity="0.1"/>
<rect x="777" y="1198" width="80" height="150" fill="#000" opacity=".06"/>
<rect x="874" y="1198" width="78" height="150" fill="#000" opacity=".06"/>
</g>
<g filter="url(#b1)" opacity=".55">
<rect x="780.5" y="934" width="2" height="240" fill="#c4c4c4"/>
<rect x="876" y="934" width="2" height="240" fill="#c4c4c4"/>
<rect x="971.5" y="934" width="2" height="240" fill="#c4c4c4"/>
<polygon points="783,1170 789,1170 787,1400 779,1400" fill="#c8c8c8" opacity=".6"/>
</g>
<g filter="url(#b2)">
<rect x="783.0" y="1037.0" width="91.0" height="9.0" fill="#c2c2c2" opacity="0.8"/>
<rect x="880.0" y="1038.0" width="89.0" height="7.0" fill="#bebebe" opacity="0.5"/>
<rect x="975.0" y="1043.0" width="69.0" height="8.0" fill="#c2c2c2" opacity="0.6"/>
<rect x="1070.0" y="1045.0" width="67.0" height="8.0" fill="#c4c4c4" opacity="0.6"/>
<rect x="1165.0" y="1049.0" width="69.0" height="22.0" fill="#e0e0e0" opacity="1"/>
<rect x="1261.0" y="1056.0" width="67.0" height="10.0" fill="#d4d4d4" opacity="1"/>
<polygon points="1355.0,1058.0 1420.0,1061.0 1420.0,1072.0 1355.0,1069.0" fill="#d8d8d8" opacity="1"/>
</g>
<g filter="url(#bv)">
<rect x="781.5" y="1172.0" width="85.4" height="12.0" fill="#c8c8c8" opacity="1"/>
<rect x="878.2" y="1175.0" width="82.4" height="11.0" fill="#cacaca" opacity="1"/>
<rect x="973.8" y="1179.0" width="70.8" height="15.0" fill="#d4d4d4" opacity="1"/>
<rect x="1068.7" y="1180.0" width="69.6" height="15.0" fill="#d2d2d2" opacity="1"/>
<rect x="1165.0" y="1184.0" width="69.0" height="15.0" fill="#d8d8d8" opacity="1"/>
<polygon points="1261.0,1188.0 1328.0,1190.0 1328.0,1206.0 1261.0,1204.0" fill="#d6d6d6" opacity="1"/>
<polygon points="1354.0,1193.0 1419.0,1195.0 1419.0,1210.0 1354.0,1208.0" fill="#d6d6d6" opacity="1"/>
</g>
<g filter="url(#b2)">
<rect x="780.0" y="1218.0" width="74.0" height="8.0" fill="#b8b8b8" opacity="0.3"/>
<rect x="780.0" y="1242.0" width="74.0" height="8.0" fill="#d6d6d6" opacity="0.325"/>
<rect x="780.0" y="1258.0" width="74.0" height="8.0" fill="#b8b8b8" opacity="0.275"/>
<rect x="780.0" y="1278.0" width="74.0" height="8.0" fill="#d8d8d8" opacity="0.35"/>
<rect x="780.0" y="1296.0" width="74.0" height="8.0" fill="#bababa" opacity="0.25"/>
<rect x="780.0" y="1312.0" width="74.0" height="8.0" fill="#d4d4d4" opacity="0.3"/>
<rect x="780.0" y="1329.0" width="74.0" height="8.0" fill="#d0d0d0" opacity="0.275"/>
<rect x="877.0" y="1218.8" width="72.0" height="8.0" fill="#b8b8b8" opacity="0.3"/>
<rect x="877.0" y="1242.8" width="72.0" height="8.0" fill="#d6d6d6" opacity="0.325"/>
<rect x="877.0" y="1258.8" width="72.0" height="8.0" fill="#b8b8b8" opacity="0.275"/>
<rect x="877.0" y="1278.8" width="72.0" height="8.0" fill="#d8d8d8" opacity="0.35"/>
<rect x="877.0" y="1296.8" width="72.0" height="8.0" fill="#bababa" opacity="0.25"/>
<rect x="877.0" y="1312.8" width="72.0" height="8.0" fill="#d4d4d4" opacity="0.3"/>
<rect x="877.0" y="1329.8" width="72.0" height="8.0" fill="#d0d0d0" opacity="0.275"/>
<rect x="974.0" y="1220.4" width="70.0" height="8.0" fill="#b8b8b8" opacity="0.6"/>
<rect x="974.0" y="1244.4" width="70.0" height="8.0" fill="#d6d6d6" opacity="0.65"/>
<rect x="974.0" y="1260.4" width="70.0" height="8.0" fill="#b8b8b8" opacity="0.55"/>
<rect x="974.0" y="1280.4" width="70.0" height="8.0" fill="#d8d8d8" opacity="0.7"/>
<rect x="974.0" y="1298.4" width="70.0" height="8.0" fill="#bababa" opacity="0.5"/>
<rect x="974.0" y="1314.4" width="70.0" height="8.0" fill="#d4d4d4" opacity="0.6"/>
<rect x="974.0" y="1331.4" width="70.0" height="8.0" fill="#d0d0d0" opacity="0.55"/>
<rect x="1069.0" y="1221.2" width="69.0" height="8.0" fill="#b8b8b8" opacity="0.6"/>
<rect x="1069.0" y="1245.2" width="69.0" height="8.0" fill="#d6d6d6" opacity="0.65"/>
<rect x="1069.0" y="1261.2" width="69.0" height="8.0" fill="#b8b8b8" opacity="0.55"/>
<rect x="1069.0" y="1281.2" width="69.0" height="8.0" fill="#d8d8d8" opacity="0.7"/>
<rect x="1069.0" y="1299.2" width="69.0" height="8.0" fill="#bababa" opacity="0.5"/>
<rect x="1069.0" y="1315.2" width="69.0" height="8.0" fill="#d4d4d4" opacity="0.6"/>
<rect x="1069.0" y="1332.2" width="69.0" height="8.0" fill="#d0d0d0" opacity="0.55"/>
<rect x="1166.0" y="1222.0" width="67.0" height="8.0" fill="#b8b8b8" opacity="0.6"/>
<rect x="1166.0" y="1246.0" width="67.0" height="8.0" fill="#d6d6d6" opacity="0.65"/>
<rect x="1166.0" y="1262.0" width="67.0" height="8.0" fill="#b8b8b8" opacity="0.55"/>
<rect x="1166.0" y="1282.0" width="67.0" height="8.0" fill="#d8d8d8" opacity="0.7"/>
<rect x="1166.0" y="1300.0" width="67.0" height="8.0" fill="#bababa" opacity="0.5"/>
<rect x="1166.0" y="1316.0" width="67.0" height="8.0" fill="#d4d4d4" opacity="0.6"/>
<rect x="1166.0" y="1333.0" width="67.0" height="8.0" fill="#d0d0d0" opacity="0.55"/>
<rect x="1262.0" y="1225.2" width="65.0" height="8.0" fill="#b8b8b8" opacity="0.6"/>
<rect x="1262.0" y="1249.2" width="65.0" height="8.0" fill="#d6d6d6" opacity="0.65"/>
<rect x="1262.0" y="1265.2" width="65.0" height="8.0" fill="#b8b8b8" opacity="0.55"/>
<rect x="1262.0" y="1285.2" width="65.0" height="8.0" fill="#d8d8d8" opacity="0.7"/>
<rect x="1262.0" y="1303.2" width="65.0" height="8.0" fill="#bababa" opacity="0.5"/>
<rect x="1262.0" y="1319.2" width="65.0" height="8.0" fill="#d4d4d4" opacity="0.6"/>
<rect x="1262.0" y="1336.2" width="65.0" height="8.0" fill="#d0d0d0" opacity="0.55"/>
<rect x="1355.0" y="1230.0" width="63.0" height="8.0" fill="#b8b8b8" opacity="0.6"/>
<rect x="1355.0" y="1254.0" width="63.0" height="8.0" fill="#d6d6d6" opacity="0.65"/>
<rect x="1355.0" y="1270.0" width="63.0" height="8.0" fill="#b8b8b8" opacity="0.55"/>
<rect x="1355.0" y="1290.0" width="63.0" height="8.0" fill="#d8d8d8" opacity="0.7"/>
<rect x="1355.0" y="1308.0" width="63.0" height="8.0" fill="#bababa" opacity="0.5"/>
<rect x="1355.0" y="1324.0" width="63.0" height="8.0" fill="#d4d4d4" opacity="0.6"/>
<rect x="1355.0" y="1341.0" width="63.0" height="8.0" fill="#d0d0d0" opacity="0.55"/>
</g>
<g filter="url(#bv)">
<polygon points="770.0,1345.5 864.0,1346.5 864.0,1357.5 770.0,1356.5" fill="#787878" opacity="0.7999999999999999"/>
<polygon points="867.0,1346.5 959.0,1347.5 959.0,1358.5 867.0,1357.5" fill="#828282" opacity="0.7"/>
<polygon points="964.0,1348.5 1054.0,1349.5 1054.0,1360.5 964.0,1359.5" fill="#747474" opacity="0.85"/>
<polygon points="1059.0,1349.5 1148.0,1350.5 1148.0,1361.5 1059.0,1360.5" fill="#6a6a6a" opacity="0.9"/>
<polygon points="1156.0,1350.5 1243.0,1353.5 1243.0,1364.5 1156.0,1361.5" fill="#6e6e6e" opacity="0.9"/>
<polygon points="1252.0,1354.5 1337.0,1357.5 1337.0,1368.5 1252.0,1365.5" fill="#727272" opacity="0.9"/>
<polygon points="1345.0,1361.5 1428.0,1364.5 1428.0,1375.5 1345.0,1372.5" fill="#767676" opacity="0.85"/>
</g>
<g filter="url(#b3)">
<rect x="766" y="1411" width="88" height="57" fill="#c4c4c4"/>
<rect x="870" y="1415" width="83" height="55" fill="#c4c4c4"/>
<rect x="964" y="1417" width="82" height="56" fill="#c4c4c4"/>
<rect x="1062" y="1418" width="77" height="55" fill="#c4c4c4"/>
<rect x="1161" y="1420" width="76" height="52" fill="#c4c4c4"/>
<rect x="1257" y="1423" width="76" height="55" fill="#c4c4c4"/>
<rect x="1351" y="1429" width="90" height="67" fill="#c4c4c4"/>
</g>
<g filter="url(#bw)">
<rect x="763" y="1406" width="94" height="22" rx="12" ry="10" fill="#f4f4f4"/>
<rect x="867" y="1410" width="89" height="24" rx="12" ry="10" fill="#f4f4f4"/>
<rect x="961" y="1412" width="88" height="26" rx="12" ry="10" fill="#f4f4f4"/>
<rect x="1059" y="1413" width="83" height="25" rx="12" ry="10" fill="#f4f4f4"/>
<rect x="1158" y="1415" width="82" height="24" rx="12" ry="10" fill="#f4f4f4"/>
<rect x="1254" y="1418" width="82" height="25" rx="12" ry="10" fill="#f4f4f4"/>
<rect x="1348" y="1424" width="96" height="30" rx="12" ry="10" fill="#f4f4f4"/>
</g>
<g filter="url(#b3)">
<rect x="749" y="1452" width="111" height="17" rx="5" fill="#f0f0f0"/>
<rect x="865" y="1455" width="92" height="16" rx="5" fill="#f0f0f0"/>
<rect x="961" y="1457" width="88" height="17" rx="5" fill="#f0f0f0"/>
<rect x="1059" y="1458" width="83" height="16" rx="5" fill="#f0f0f0"/>
<rect x="1158" y="1460" width="82" height="13" rx="5" fill="#f0f0f0"/>
<rect x="1254" y="1464" width="83" height="15" rx="5" fill="#f0f0f0"/>
<rect x="1347" y="1473" width="97" height="24" rx="5" fill="#f0f0f0"/>
<polygon points="1400,1478 1445,1472 1445,1502 1380,1494" fill="#e8e8e8"/>
</g>
<g filter="url(#b3)">
<ellipse cx="861" cy="1446" rx="8" ry="14" fill="#a8a8a8"/>
<ellipse cx="958" cy="1446" rx="11" ry="15" fill="#989898"/>
<ellipse cx="1053" cy="1447" rx="13" ry="14" fill="#929292"/>
<ellipse cx="1150" cy="1447" rx="13" ry="13" fill="#929292"/>
<ellipse cx="1250" cy="1450" rx="13" ry="13" fill="#929292"/>
<ellipse cx="1350" cy="1457" rx="13" ry="13" fill="#929292"/>
<ellipse cx="1437" cy="1468" rx="8" ry="12" fill="#969696"/>
</g>
<g filter="url(#b3)">
<rect x="600" y="1016" width="59" height="13" fill="#c2c2c2" opacity="0.75"/>
<rect x="604" y="1091" width="52" height="10" fill="#bebebe" opacity="0.3"/>
<rect x="601" y="1255" width="58" height="17" fill="#cacaca" opacity="0.8"/>
<rect x="598" y="1383" width="52" height="15" fill="#bebebe" opacity="0.35"/>
<rect x="591" y="1458" width="52" height="11" fill="#c0c0c0" opacity="0.5"/>
<rect x="608" y="1180" width="47" height="8" fill="#bcbcbc" opacity="0.25"/>
</g>
<g filter="url(#b5)">
<rect x="682" y="1300" width="66" height="50" fill="#646464" opacity=".45"/>
<rect x="690" y="1240" width="54" height="62" fill="#969696" opacity=".22"/>
</g>
<g filter="url(#b3)">
<rect x="691" y="1225" width="58" height="13.5" rx="4" fill="#505050"/>
<rect x="680" y="1330" width="72" height="52" rx="11" fill="#1e1e1e"/>
</g>
<g filter="url(#b2)">
<rect x="684" y="1336" width="64" height="42" rx="10" fill="#181818"/>
</g>
<g filter="url(#b2)">
<polygon points="560,1466 760,1467 1000,1471 1100,1473 1200,1476 1280,1482 1350,1491 1400,1498 1445,1504 1445,1515 560,1515" fill="url(#gbot)"/>
</g>
<ellipse cx="1130" cy="1502" rx="230" ry="16" fill="#464646" opacity=".5" filter="url(#b5)"/>
<rect x="567.0" y="1505" width="872.8" height="2.5" fill="#181818" opacity=".7"/>
<g filter="url(#b1)">
<polygon points="560,925 1445,925 1445,949 1400,946 1300,940 1229,937.5 1100,934.5 1000,933.5 780,932.5 560,932.5" fill="#4a4a4a"/>
<polygon points="560,925 1445,925 1445,945 1400,942 1300,936.5 1229,934.5 1100,932.5 1000,931.7 560,931.2" fill="#101010"/>
</g>
</g>
<text x="479.3" y="934.8" font-size="25.00" fill="#111" stroke="#111" stroke-width=".35">I</text>
<text x="382.4" y="1238.9" font-size="18.80" textLength="175.0" lengthAdjust="spacingAndGlyphs" fill="#111" stroke="#111" stroke-width=".35">92 kDa  pro-MMP-9</text>
<text x="382.4" y="1333.6" font-size="18.80" textLength="175.0" lengthAdjust="spacingAndGlyphs" fill="#111" stroke="#111" stroke-width=".35">72 kDa  pro-MMP-2</text>
<text x="382.4" y="1361.9" font-size="18.80" textLength="175.0" lengthAdjust="spacingAndGlyphs" fill="#111" stroke="#111" stroke-width=".35">65 kDa NTT-MMP-2</text>
<polyline points="409.5,1242.5 411.6,1244.7 413.7,1242.5 415.8,1244.7 417.9,1242.5 420.0,1244.7 422.1,1242.5 424.2,1244.7 426.3,1242.5 428.4,1244.7 430.5,1242.5 432.6,1244.7 434.7,1242.5 436.8,1244.7 438.9,1242.5 441.0,1244.7 443.1,1242.5 445.2,1244.7" fill="none" stroke="#e02020" stroke-width="1"/>
<polyline points="409.5,1337.2 411.6,1339.4 413.7,1337.2 415.8,1339.4 417.9,1337.2 420.0,1339.4 422.1,1337.2 424.2,1339.4 426.3,1337.2 428.4,1339.4 430.5,1337.2 432.6,1339.4 434.7,1337.2 436.8,1339.4 438.9,1337.2 441.0,1339.4 443.1,1337.2 445.2,1339.4" fill="none" stroke="#e02020" stroke-width="1"/>
<polyline points="409.5,1365.5 411.6,1367.7 413.7,1365.5 415.8,1367.7 417.9,1365.5 420.0,1367.7 422.1,1365.5 424.2,1367.7 426.3,1365.5 428.4,1367.7 430.5,1365.5 432.6,1367.7 434.7,1365.5 436.8,1367.7 438.9,1365.5 441.0,1367.7 443.1,1365.5 445.2,1367.7" fill="none" stroke="#e02020" stroke-width="1"/>
<text x="593.2" y="1543.8" font-size="22.00" textLength="73.5" lengthAdjust="spacingAndGlyphs" fill="#111" stroke="#111" stroke-width=".35">Protein</text>
<text x="611.1" y="1574.1" font-size="22.00" textLength="37.5" lengthAdjust="spacingAndGlyphs" fill="#111" stroke="#111" stroke-width=".35">size</text>
<text x="593.6" y="1604.4" font-size="22.00" textLength="71.5" lengthAdjust="spacingAndGlyphs" fill="#111" stroke="#111" stroke-width=".35">marker</text>
<text x="680.7" y="1543.2" font-size="20.00" textLength="79.0" lengthAdjust="spacingAndGlyphs" fill="#111" stroke="#111" stroke-width=".35">HT 10-80</text>
<text x="836.4" y="1579.7" font-size="22.00" textLength="79.2" lengthAdjust="spacingAndGlyphs" fill="#111" stroke="#111" stroke-width=".35">Aerobic</text>
<text x="839.3" y="1608.9" font-size="22.00" textLength="71.8" lengthAdjust="spacingAndGlyphs" fill="#111" stroke="#111" stroke-width=".35">control</text>
<text x="1048.2" y="1585.3" font-size="24.50" textLength="28.2" lengthAdjust="spacingAndGlyphs" fill="#111" stroke="#111" stroke-width=".35">I/R</text>
<text x="1241.1" y="1579.7" font-size="22.50" textLength="114.5" lengthAdjust="spacingAndGlyphs" fill="#111" stroke="#111" stroke-width=".35">I/R + siRNA</text>
<path d="M783.2,1513.6 C783.2,1531.7 784.2,1533.7 790.2,1533.7 L867.7,1533.7 C873.2,1533.7 874.7,1538.7 874.7,1557.3 C874.7,1538.7 876.2,1533.7 881.7,1533.7 L956.8,1533.7 C962.8,1533.7 963.8,1531.7 963.8,1513.6" fill="none" stroke="#222" stroke-width="1.5"/>
<path d="M963.8,1513.6 C963.8,1531.7 964.8,1533.7 970.8,1533.7 L1053.1,1533.7 C1058.6,1533.7 1060.1,1538.7 1060.1,1558.4 C1060.1,1538.7 1061.6,1533.7 1067.1,1533.7 L1147.3,1533.7 C1153.3,1533.7 1154.3,1531.7 1154.3,1511.3" fill="none" stroke="#222" stroke-width="1.5"/>
<path d="M1154.3,1511.3 C1154.3,1529.5 1155.3,1531.5 1161.3,1531.5 L1292.9,1531.5 C1298.4,1531.5 1299.9,1536.5 1299.9,1556.2 C1299.9,1536.5 1301.4,1531.5 1306.9,1531.5 L1434.5,1531.5 C1440.5,1531.5 1441.5,1529.5 1441.5,1512.4" fill="none" stroke="#222" stroke-width="1.5"/>
</svg></body></html>
